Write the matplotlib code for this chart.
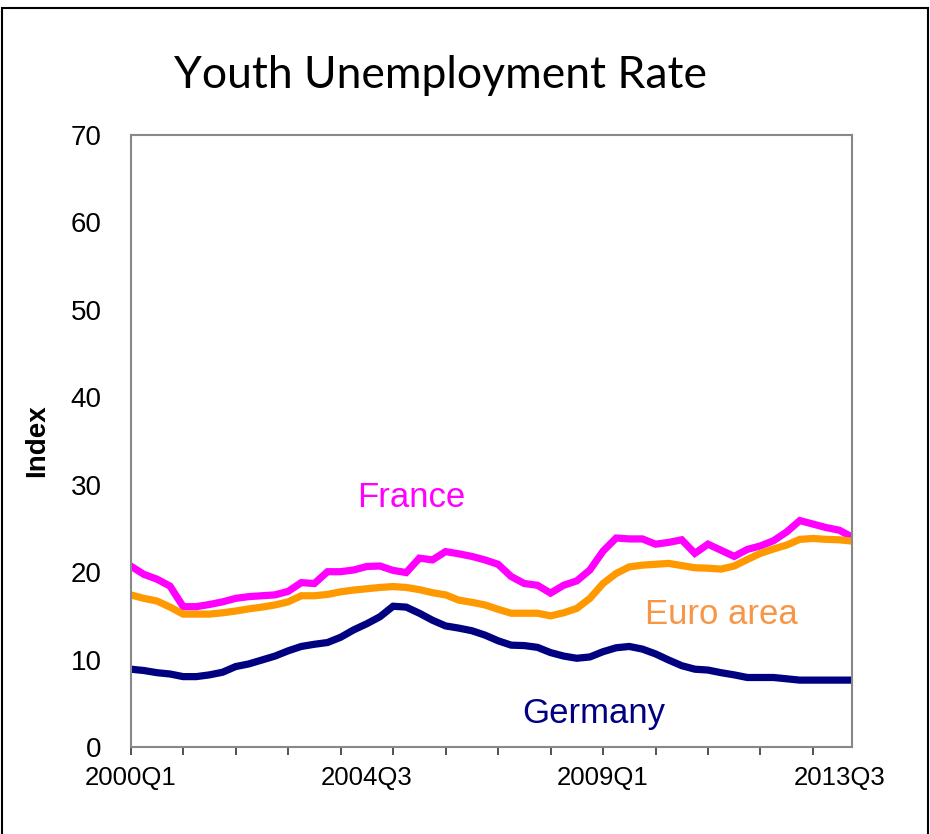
import numpy as np
import matplotlib
matplotlib.use("Agg")
import matplotlib.pyplot as plt
from matplotlib.patches import Rectangle

# quarterly series, 2000Q1 - 2013Q4
quarters = [f"{y}Q{q}" for y in range(2000, 2014) for q in range(1, 5)]

france = [20.7, 19.75, 19.2, 18.4, 16.05, 16.05, 16.3, 16.6, 17.0, 17.2,
          17.3, 17.4, 17.8, 18.8, 18.7, 20.05, 20.05, 20.25, 20.65, 20.7,
          20.2, 19.95, 21.6, 21.4, 22.35, 22.1, 21.8, 21.4, 20.9, 19.5,
          18.7, 18.5, 17.6, 18.5, 19.0, 20.25, 22.4, 23.9, 23.8, 23.8,
          23.2, 23.4, 23.7, 22.15, 23.2, 22.5, 21.8, 22.6, 23.0, 23.6,
          24.6, 25.9, 25.5, 25.1, 24.8, 24.0]

euro_area = [17.4, 17.0, 16.7, 16.0, 15.2, 15.2, 15.2, 15.35, 15.55, 15.8,
             16.0, 16.25, 16.6, 17.3, 17.3, 17.45, 17.75, 17.95, 18.1, 18.25,
             18.35, 18.25, 18.0, 17.65, 17.4, 16.8, 16.55, 16.25, 15.75, 15.3,
             15.3, 15.3, 15.0, 15.35, 15.85, 17.0, 18.7, 19.85, 20.6, 20.8,
             20.9, 21.0, 20.75, 20.5, 20.45, 20.35, 20.7, 21.45, 22.15, 22.65,
             23.1, 23.75, 23.85, 23.75, 23.7, 23.55]

germany = [8.9, 8.75, 8.5, 8.35, 8.05, 8.05, 8.25, 8.55, 9.2, 9.5,
           9.95, 10.4, 11.0, 11.5, 11.75, 11.95, 12.55, 13.4, 14.1, 14.9,
           16.1, 16.0, 15.3, 14.5, 13.85, 13.6, 13.3, 12.8, 12.15, 11.65,
           11.6, 11.4, 10.8, 10.4, 10.15, 10.3, 10.9, 11.35, 11.5, 11.2,
           10.65, 9.95, 9.3, 8.9, 8.8, 8.5, 8.25, 7.95, 7.95, 7.95,
           7.8, 7.65, 7.65, 7.65, 7.65, 7.65]

label_every = 18
tick_every = 4

x = np.arange(len(quarters))

fig = plt.figure(figsize=(9.3, 8.34), dpi=100)
fig.patch.set_facecolor("white")

# outer frame of the chart object
fig.add_artist(Rectangle((2 / 930, -0.05), 926 / 930, 1.05 - 8 / 834,
                         transform=fig.transFigure, fill=False,
                         edgecolor="black", linewidth=1.5))

ax = fig.add_axes([130.7 / 930, 87 / 834, 721.6 / 930, 612 / 834])

lw = 5.2
ax.plot(x, france, color="#FF00FF", linewidth=lw, solid_joinstyle="miter")
ax.plot(x, euro_area, color="#FF9900", linewidth=lw, solid_joinstyle="miter")
ax.plot(x, germany, color="#000080", linewidth=lw, solid_joinstyle="miter")

ax.set_xlim(0, len(quarters) - 1)
ax.set_ylim(0, 70)
ax.set_yticks(range(0, 71, 10))

# yearly tick marks, labels every 18 quarters
ax.xaxis.remove_overlapping_locs = False
ax.set_xticks(x[::tick_every])
ax.set_xticklabels([])
ax.set_xticks(x[::label_every], minor=True)
ax.set_xticklabels([quarters[i] for i in x[::label_every]], minor=True)
ax.tick_params(axis="x", which="major", direction="out", length=6,
               width=1.2, color="#333333")
ax.tick_params(axis="x", which="minor", length=0, pad=14,
               labelsize=18.5, labelcolor="black")
ax.tick_params(axis="y", length=0, pad=21, labelsize=20)
for lab in ax.get_xticklabels(minor=True) + ax.get_yticklabels():
    lab.set_fontfamily("Liberation Sans")

for side in ["left", "right", "top", "bottom"]:
    ax.spines[side].set_color("#888888")
    ax.spines[side].set_linewidth(1.5)

ax.set_ylabel("Index", fontsize=20, fontweight="bold",
              fontfamily="Liberation Sans")
ax.yaxis.set_label_coords(-0.112, 0.5)

ax.text(21.4, 28.5, "France", color="#FF00FF", fontsize=25,
        fontfamily="Liberation Sans", ha="center", va="center")
ax.text(45.0, 15.1, "Euro area", color="#F79646", fontsize=25,
        fontfamily="Liberation Sans", ha="center", va="center")
ax.text(35.3, 3.8, "Germany", color="#000080", fontsize=25,
        fontfamily="Liberation Sans", ha="center", va="center")

fig.text(440 / 930, 1 - 75 / 834, "Youth Unemployment Rate", fontsize=32,
         fontfamily="Lato", ha="center", va="center")

fig.savefig("out.png", dpi=100)
